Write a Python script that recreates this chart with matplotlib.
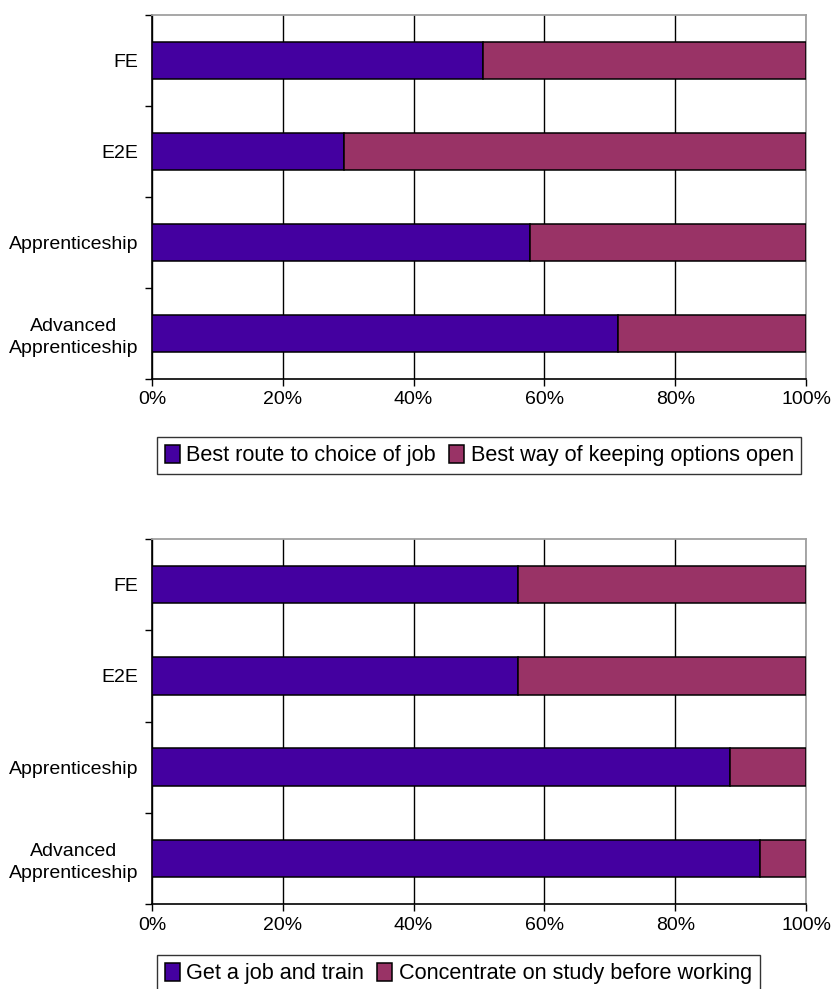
import matplotlib.pyplot as plt
import numpy as np

plt.rcParams['font.family'] = ['Liberation Sans', 'DejaVu Sans']
plt.rcParams['font.size'] = 14

categories = ['FE', 'E2E', 'Apprenticeship', 'Advanced\nApprenticeship']

# chart 1: route to choice of job vs keeping options open
top_names = ['Best route to choice of job', 'Best way of keeping options open']
top_job = [50.6, 29.4, 57.8, 71.3]

# chart 2: get a job vs study first
bot_names = ['Get a job and train', 'Concentrate on study before working']
bot_job = [56.0, 56.0, 88.4, 93.0]

purple = '#4400a0'
maroon = '#993366'


def draw(ax, first, names, legend_y):
    first = np.array(first)
    rest = 100 - first
    y = np.arange(len(categories)) + 0.5
    ax.barh(y, first, height=0.41, color=purple, edgecolor='black', linewidth=1.1, label=names[0], zorder=3)
    ax.barh(y, rest, left=first, height=0.41, color=maroon, edgecolor='black', linewidth=1.1, label=names[1], zorder=3)
    ax.set_xlim(0, 100)
    ax.set_ylim(len(categories), 0)
    ax.set_xticks(np.arange(0, 101, 20))
    ax.set_xticklabels(['%d%%' % v for v in range(0, 101, 20)])
    ax.set_yticks(np.arange(0, len(categories) + 1))
    ax.set_yticklabels([])
    ax.set_yticks(y, minor=True)
    ax.set_yticklabels(categories, minor=True, ha='right', multialignment='center', linespacing=1.35)
    ax.tick_params(axis='y', which='minor', length=0, pad=10)
    ax.tick_params(axis='y', which='major', length=5, width=1, direction='out')
    ax.tick_params(axis='x', length=5, width=1, direction='out', pad=4)
    ax.xaxis.grid(True, color='black', linewidth=1, zorder=0)
    for s in ['top', 'right']:
        ax.spines[s].set_color('#a0a0a0')
        ax.spines[s].set_linewidth(1.3)
    for s in ['left', 'bottom']:
        ax.spines[s].set_color('black')
        ax.spines[s].set_linewidth(1.2)
    leg = ax.legend(loc='upper left', bbox_to_anchor=(157 / 833, legend_y), bbox_transform=fig.transFigure,
                    ncol=2, frameon=True, fancybox=False, borderpad=0.35, handlelength=0.7, handleheight=0.9,
                    handletextpad=0.3, columnspacing=0.6, borderaxespad=0, fontsize=15.6)
    leg.get_frame().set_edgecolor('black')
    leg.get_frame().set_linewidth(1)


fig = plt.figure(figsize=(8.33, 9.89), dpi=100)
ax1 = fig.add_axes([0.1825, 0.6168, 0.7851, 0.368])
ax2 = fig.add_axes([0.1825, 0.0859, 0.7851, 0.369])
draw(ax1, top_job, top_names, 1 - 437 / 989)
draw(ax2, bot_job, bot_names, 1 - 955 / 989)

fig.savefig('out.png', dpi=100)
